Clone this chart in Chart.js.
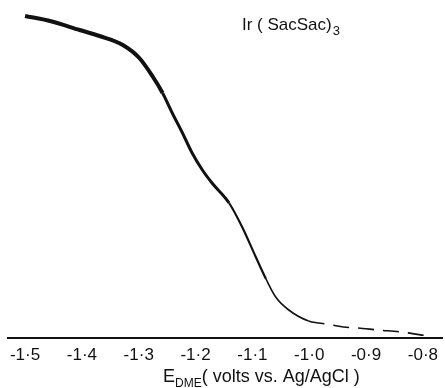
<!DOCTYPE html>
<html>
<head>
<meta charset="utf-8">
<script src="https://cdn.jsdelivr.net/npm/chart.js@4/dist/chart.umd.min.js"></script>
<style>
  html, body { margin: 0; padding: 0; background: #fff; }
  #wrap { width: 445px; height: 388px; position: relative; }
</style>
</head>
<body>
<div id="wrap"><canvas id="c" width="445" height="388"></canvas></div>
<script>
// Potential (V vs Ag/AgCl) and current (arbitrary units)
const potentials = [-1.500, -1.456, -1.404, -1.369, -1.328, -1.299, -1.276, -1.258, -1.241, -1.223,
                    -1.206, -1.188, -1.171, -1.141, -1.118, -1.094, -1.076, -1.059, -1.036, -1.001,
                    -0.970, -0.940, -0.914, -0.879, -0.838, -0.791];
const currents   = [322, 317, 308, 302, 293, 280, 262, 245, 225, 205,
                    185, 168, 155, 135, 111, 81, 59, 41, 28, 17,
                    14, 11, 10, 8, 6, 2];
const tickValues = [-1.5, -1.4, -1.3, -1.2, -1.1, -1.0, -0.9, -0.8];
const tickLabels = ["-1·5", "-1·4", "-1·3", "-1·2", "-1·1", "-1·0", "-0·9", "-0·8"];
const compoundLabel = ["Ir ( SacSac)", "3"];
const axisTitle = ["E", "DME", "( volts vs. Ag/AgCl )"];

const FONT = "'Liberation Sans', Arial, sans-serif";

const textPlugin = {
  id: 'texts',
  afterDraw(chart) {
    const ctx = chart.ctx;
    ctx.save();
    ctx.fillStyle = '#111';
    ctx.textBaseline = 'alphabetic';
    ctx.textAlign = 'left';
    // compound label
    ctx.font = '17px ' + FONT;
    let x = 242;
    ctx.fillText(compoundLabel[0], x, 30);
    x += ctx.measureText(compoundLabel[0]).width + 1;
    ctx.font = '13px ' + FONT;
    ctx.fillText(compoundLabel[1], x, 35);
    // axis title
    x = 163;
    ctx.font = '18px ' + FONT;
    ctx.fillText(axisTitle[0], x, 382);
    x += ctx.measureText(axisTitle[0]).width;
    ctx.font = '12px ' + FONT;
    ctx.fillText(axisTitle[1], x, 387);
    x += ctx.measureText(axisTitle[1]).width;
    ctx.font = '18px ' + FONT;
    ctx.fillText(axisTitle[2], x, 382);
    ctx.restore();
  }
};

const data = potentials.map((p, i) => ({ x: p, y: currents[i] }));

new Chart(document.getElementById('c'), {
  type: 'scatter',
  data: {
    datasets: [{
      data: data,
      showLine: true,
      borderColor: '#111',
      borderWidth: 2,
      pointRadius: 0,
      cubicInterpolationMode: 'monotone',
      segment: {
        borderWidth: c => {
          const x = c.p0.parsed.x;
          if (x < -1.27) return 4;
          if (x < -1.16) return 3;
          if (x < -1.08) return 2.2;
          return 1.6;
        },
        borderDash: c => (c.p0.parsed.x > -1.01 ? [16, 9] : [])
      }
    }]
  },
  options: {
    responsive: false,
    animation: false,
    devicePixelRatio: 1,
    layout: { padding: { left: 8, right: 0, top: 0, bottom: 0 } },
    plugins: { legend: { display: false }, tooltip: { enabled: false } },
    scales: {
      x: {
        type: 'linear',
        min: -1.53,
        max: -0.765,
        afterBuildTicks: s => { s.ticks = tickValues.map(v => ({ value: v })); },
        afterFit: s => { s.height = 50; },
        grid: { display: false, drawTicks: false },
        border: { display: true, color: '#111', width: 2 },
        ticks: {
          autoSkip: false,
          maxRotation: 0,
          padding: 7,
          color: '#111',
          font: { family: FONT, size: 17 },
          callback: (v) => {
            const i = tickValues.findIndex(t => Math.abs(t - v) < 1e-6);
            return i >= 0 ? tickLabels[i] : '';
          }
        }
      },
      y: {
        display: false,
        min: 0,
        max: 338
      }
    }
  },
  plugins: [textPlugin]
});
</script>
</body>
</html>
